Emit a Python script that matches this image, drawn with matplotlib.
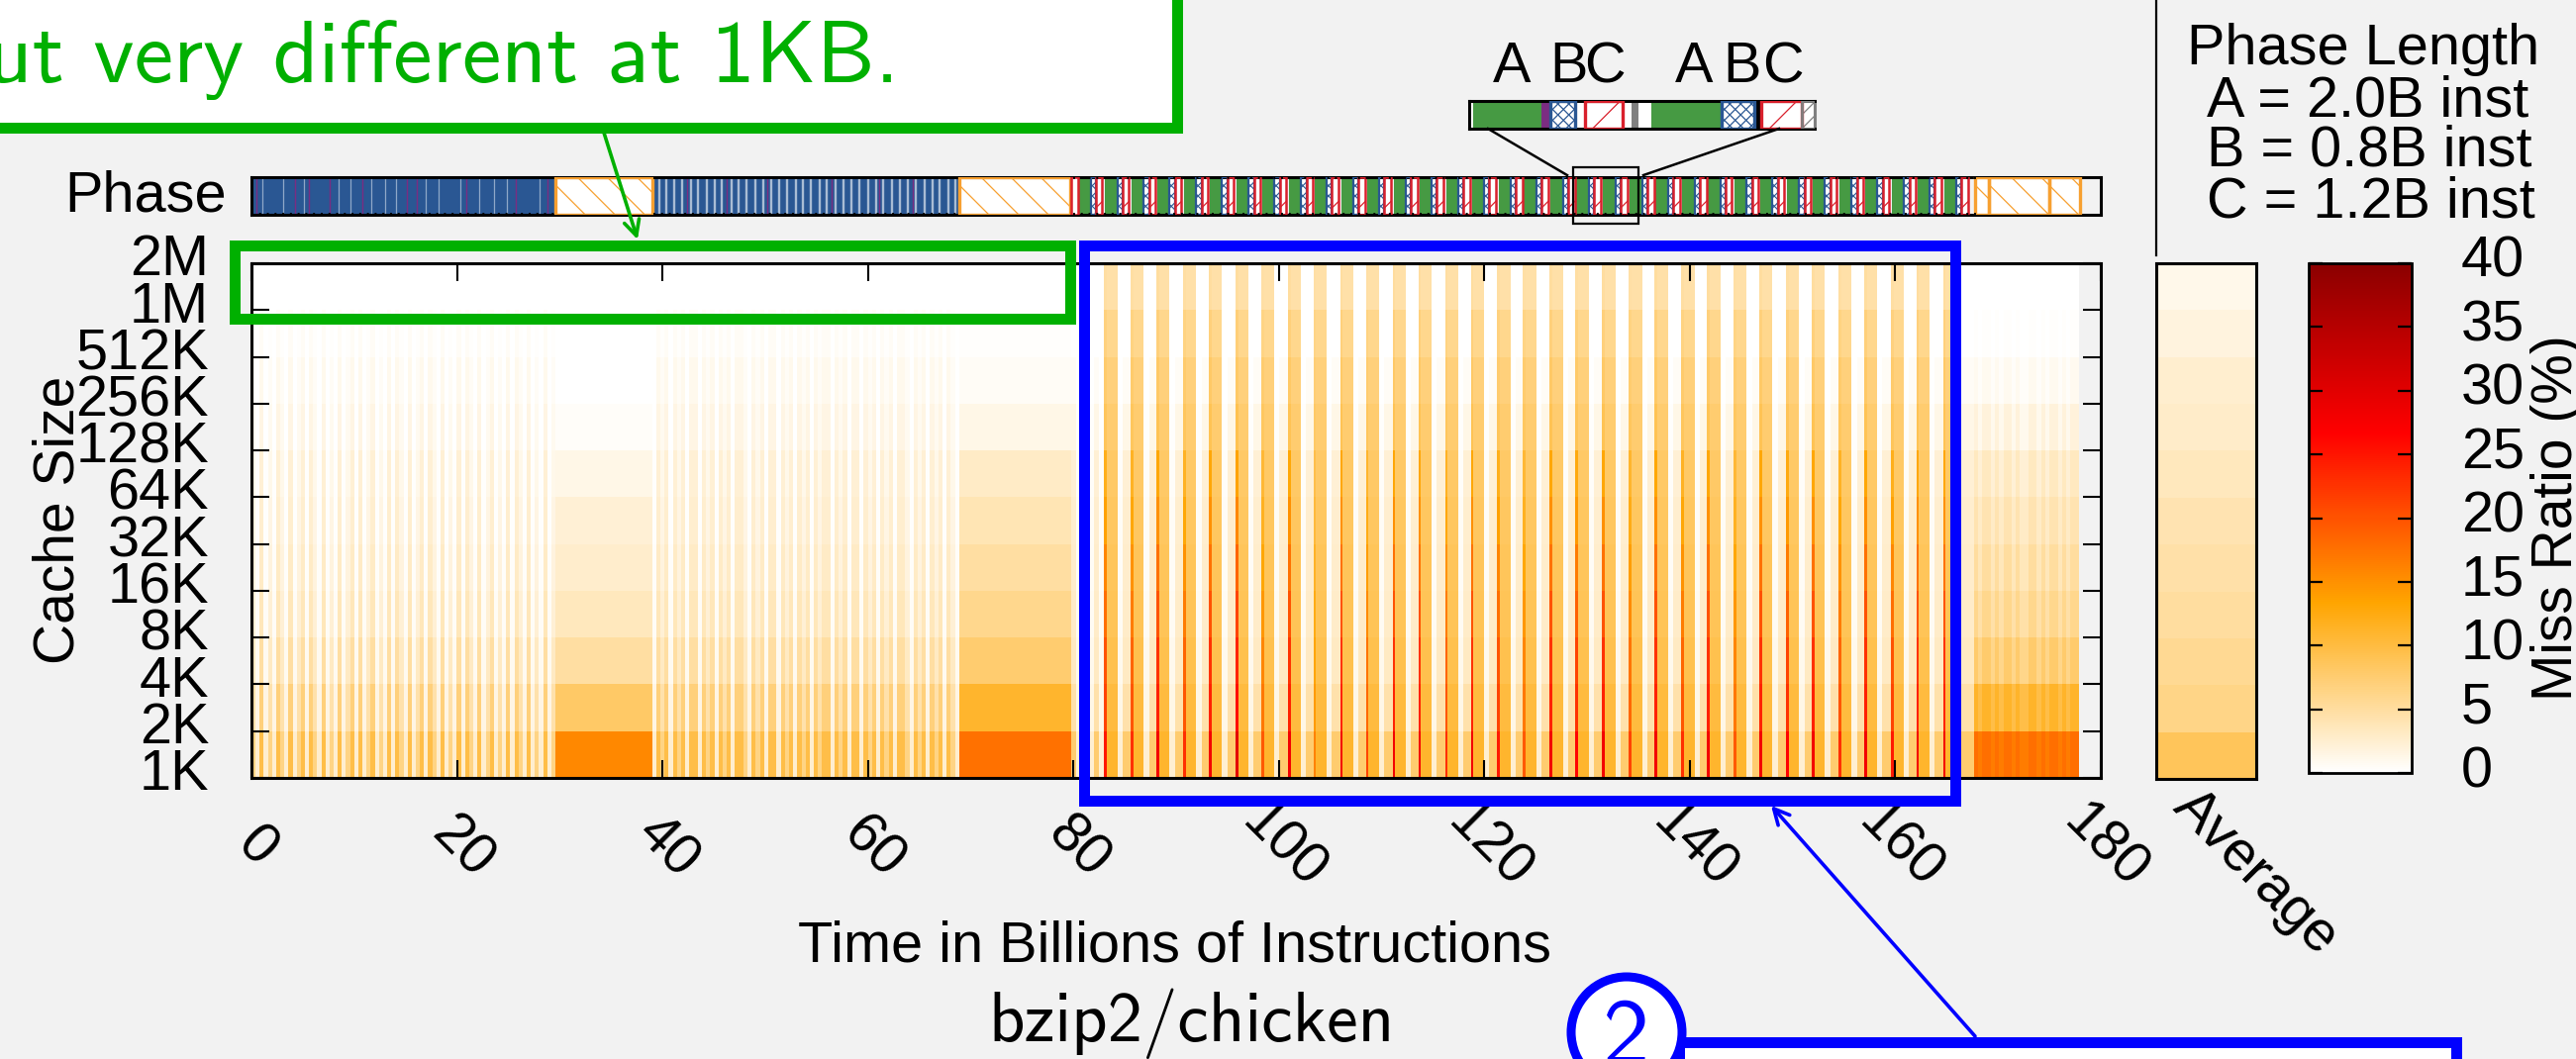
import numpy as np
import matplotlib
matplotlib.use('Agg')
import matplotlib.pyplot as plt
from matplotlib.colors import LinearSegmentedColormap
from matplotlib.cm import ScalarMappable
from matplotlib.patches import Rectangle, Circle

plt.rcParams['font.family'] = ['Liberation Sans', 'DejaVu Sans']

W, H = 2602, 1070
BG = '#f2f2f2'
GREEN = '#00b000'
BLUE = '#0000ff'
PH_GREEN, PH_BLUE, PH_RED = '#469a43', '#2a5793', '#d9202c'
PH_ORANGE, PH_PURPLE, PH_GREY = '#f7a030', '#7b2d82', '#808080'

cache_labels = ['1K', '2K', '4K', '8K', '16K', '32K', '64K', '128K', '256K',
                '512K', '1M', '2M']
x_ticks = [0, 20, 40, 60, 80, 100, 120, 140, 160, 180]
cbar_ticks = [0, 5, 10, 15, 20, 25, 30, 35, 40]

# miss ratio per cache row, 1K upwards to 1M
early_strong = [9.6, 7.0, 4.9, 3.7, 3.0, 2.6, 2.2, 1.5, 1.0, 0.6, 0.15]
early_mid = [6.5, 4.5, 3.2, 2.2, 1.8, 1.5, 1.2, 0.8, 0.5, 0.3, 0.1]
early_pale = [2.6, 1.5, 0.8, 0.5, 0.4, 0.3, 0.25, 0.15, 0.1, 0.08, 0.05]
flat_a = [15.7, 8.0, 4.9, 3.5, 2.8, 2.2, 1.4, 0.4, 0.1, 0.03, 0.02]
flat_b = [17.6, 11.0, 7.6, 6.0, 4.9, 4.0, 3.0, 1.3, 0.6, 0.2, 0.1]
spike = [28.0, 24.0, 22.5, 20.0, 17.6, 15.0, 13.0, 9.0, 8.0, 7.0, 5.0]
high = [11.0, 10.0, 9.3, 8.9, 8.6, 8.3, 8.0, 7.6, 7.0, 6.0, 4.6]
white = [2.4, 1.3, 1.0, 0.7, 0.6, 0.5, 0.4, 0.2, 0.1, 0.05, 0.03]
light = [7.5, 4.5, 3.2, 2.9, 2.7, 2.6, 2.3, 1.3, 0.6, 0.1, 0.05]
late_hi = [17.8, 11.2, 7.8, 6.0, 5.0, 4.2, 3.4, 1.9, 0.9, 0.25, 0.08]
late_lo = [16.6, 9.6, 6.2, 4.6, 3.6, 3.0, 2.2, 1.0, 0.4, 0.1, 0.04]
average = [8.6, 6.3, 5.7, 5.0, 4.6, 4.1, 3.5, 2.9, 2.5, 1.8, 1.2]

# stripe levels of the fine grained phases: 0 pale, 1 mid, 2 strong
early_a = [1, 0, 2, 0, 1, 0, 2, 1, 0, 2, 0, 1, 2, 0, 2, 1, 0, 2, 0, 1, 0, 2, 0,
           1, 2, 0, 2, 0, 1, 2, 0, 1, 0, 2, 0, 2, 1, 0, 2, 0, 1, 2, 0, 2, 1, 0,
           2, 0, 1, 0, 2, 0, 2, 1, 0, 2, 0, 1, 2, 0, 1, 0, 2, 0, 2, 1, 0, 2, 0,
           1, 0, 2, 0, 1]
early_b = [0, 2, 1, 2, 0, 2, 1, 2, 0, 2, 2, 0, 2, 1, 2, 0, 2, 1, 2, 0, 2, 2, 1,
           0, 2, 1, 2, 0, 2, 2, 0, 2, 1, 2, 0, 2, 1, 2, 0, 2, 1, 2, 2, 0, 2, 1,
           2, 0, 2, 2, 0, 2, 1, 2, 0, 2, 1, 2, 0, 2, 2, 1, 0, 2, 1, 2, 0, 2, 1,
           2, 0, 2, 1, 0]
late_levels = [1, 0, 1, 1, 0, 1, 0, 1, 1, 0, 1, 0, 0, 1, 1, 0, 1, 0, 1, 1, 0,
               1, 0, 1, 1]

# phase boundaries in billions of instructions
early_a_span = (0.0, 29.6)
flat_a_span = (29.6, 39.0)
early_b_span = (39.0, 68.9)
flat_b_span = (68.9, 79.8)
late_span = (167.8, 178.0)
pale_lead = [0.5, 0.7, 0.4, 0.6, 0.5, 0.5]
cycle_starts = [83.1, 85.7, 88.2, 90.8, 93.3, 95.9, 98.4, 101.0, 103.5, 106.1,
                108.6, 111.2, 113.7, 116.3, 118.8, 121.4, 123.9, 126.5, 129.0,
                131.6, 134.2, 136.7, 139.3, 141.8, 144.4, 146.9, 149.5, 152.0,
                154.6, 157.1, 159.7, 162.2, 164.8]
spike_strength = [0.8, 0.7, 1.0, 0.7, 1.0, 1.1, 0.5, 1.0, 0.3, 1.0, 0.6, 1.0,
                  1.0, 0.7, 1.0, 0.8, 0.5, 1.0, 0.9, 1.0, 0.6, 1.0, 0.7, 1.0,
                  0.5, 1.0, 0.9, 1.0, 0.7, 1.0, 0.8, 1.0, 1.0]

# phase bar
bar_blue_spans = [(0.0, 29.6), (39.1, 68.9)]
bar_orange_spans = [(29.6, 39.0), (68.9, 79.7), (167.8, 169.2), (169.2, 175.0),
                    (175.0, 178.0)]
bar_white_a = [1.1, 3.1, 5.1, 8.5, 9.6, 11.7, 13.0, 14.1, 17.0, 18.2, 20.3,
               22.2, 23.6, 24.9, 28.0]
bar_white_b = [39.7, 40.4, 41.2, 41.9, 42.8, 43.5, 44.3, 45.1, 45.8, 46.7, 47.4,
               48.2, 49.1, 49.8, 50.6, 51.4, 52.1, 53.0, 53.7, 54.5, 55.3, 56.0,
               56.9, 57.6, 58.4, 59.2, 60.0, 60.8, 61.5, 62.4, 63.1, 63.9, 64.7,
               65.5, 66.3, 67.0, 67.9, 68.5]
bar_purple_lines = [0.5, 4.2, 5.6, 7.6, 10.8, 15.1, 16.1, 20.9, 25.7, 28.8,
                    42.4, 46.3, 50.2, 56.5, 61.1, 64.4]
bar_cycle_widths = [1.19, 0.51, 0.64]

# zoomed part of the phase bar: kind, width in pixels
inset_kinds = ['white', 'green', 'purple', 'blue', 'white', 'red', 'white',
               'grey', 'white', 'green', 'blue', 'black', 'red', 'ghatch']
inset_widths = [4, 69, 9, 25, 10, 38, 9, 7, 14, 71, 33, 7, 41, 13]
abc_letters = ['A', 'B', 'C', 'A', 'B', 'C']
abc_x = [1508, 1565, 1600, 1692, 1740, 1780]
legend_lines = ['Phase Length', 'A = 2.0B inst', 'B = 0.8B inst', 'C = 1.2B inst']
legend_x = [2209, 2229, 2229, 2229]
legend_y = [65, 117, 168, 220]


def px_axes(x0, y0, x1, y1):
    return fig.add_axes([x0/W, 1-y1/H, (x1-x0)/W, (y1-y0)/H])


def hatched(ax, x0, w, h, color, signs, step, edge_lw, hatch_lw=0.9):
    fill = Rectangle((x0, 0), w, h, fc='white', ec='none', zorder=2)
    ax.add_patch(fill)
    for sign in signs:
        for off in np.arange(x0-h, x0+w+h, step):
            ys = [0, h] if sign > 0 else [h, 0]
            ln, = ax.plot([off, off+h], ys, color=color, lw=hatch_lw, zorder=2.5)
            ln.set_clip_path(fill)
    ax.add_patch(Rectangle((x0, 0), w, h, fc='none', ec=color, lw=edge_lw, zorder=3))


fig = plt.figure(figsize=(W/100, H/100), dpi=100, facecolor=BG)
cmap = LinearSegmentedColormap.from_list(
    'miss', ['white', 'orange', 'red', 'darkred'])

# heatmap columns
levels = [early_pale, early_mid, early_strong]
edges = [0.0]
cols = []


def add_col(width, vals):
    edges.append(edges[-1]+width)
    cols.append(vals)


for lev in early_a:
    add_col((early_a_span[1]-early_a_span[0])/len(early_a), levels[lev])
add_col(flat_a_span[1]-flat_a_span[0], flat_a)
for lev in early_b:
    add_col((early_b_span[1]-early_b_span[0])/len(early_b), levels[lev])
add_col(flat_b_span[1]-flat_b_span[0], flat_b)
for i, wd in enumerate(pale_lead):
    add_col(wd, white if i % 2 else light)
ends = cycle_starts[1:]+[late_span[0]]
for st, en, s in zip(cycle_starts, ends, spike_strength):
    add_col(0.26, list(np.array(high)+s*(np.array(spike)-np.array(high))))
    add_col(1.03, high)
    add_col(0.50, white)
    add_col(en-st-1.79, light)
for lev in late_levels:
    add_col((late_span[1]-late_span[0])/len(late_levels), late_hi if lev else late_lo)

ax = px_axes(254, 266, 2121.5, 786)
ax.set_facecolor(BG)
ax.pcolormesh(edges, np.arange(12), np.array(cols).T, cmap=cmap, vmin=0, vmax=40,
              antialiased=False, linewidth=0)
ax.set_xlim(0, 180)
ax.set_ylim(0, 11)
ax.set_xticks(x_ticks)
ax.set_yticks(np.arange(12))
ax.set_xticklabels([])
ax.set_yticklabels([])
ax.tick_params(axis='both', direction='in', length=13, width=1.5, top=True,
               right=True, color='black')
for sp in ax.spines.values():
    sp.set_linewidth(2.2)
for i, lab in enumerate(cache_labels):
    ax.annotate(lab, xy=(0, i), xycoords=('axes fraction', 'data'),
                xytext=(-43, -12.5), textcoords='offset pixels', ha='right',
                va='baseline', fontsize=41.5)
for t in x_ticks:
    ax.annotate(str(t), xy=(t, 0), xycoords=('data', 'axes fraction'),
                xytext=(5, -70), textcoords='offset pixels', ha='center',
                va='center', rotation=-45, rotation_mode='default', fontsize=41)

# average column
ax2 = px_axes(2177.5, 266, 2279, 787)
ax2.pcolormesh([0, 1], np.arange(12), np.array([average]).T, cmap=cmap, vmin=0,
               vmax=40, antialiased=False, linewidth=0)
ax2.set_xticks([])
ax2.set_yticks([])
for sp in ax2.spines.values():
    sp.set_linewidth(2.2)
ax2.annotate('Average', xy=(0.5, 0), xycoords='axes fraction', xytext=(50, -95),
             textcoords='offset pixels', ha='center', va='center', rotation=-45,
             fontsize=41)

# colour scale
cax = px_axes(2332, 266, 2436, 781)
cb = fig.colorbar(ScalarMappable(plt.Normalize(0, 40), cmap), cax=cax)
cb.set_ticks(cbar_ticks)
cb.set_ticklabels([])
cb.outline.set_linewidth(2.0)
cax.tick_params(direction='in', length=10, width=1.6, left=True, right=True,
                color='black')
for v in cbar_ticks:
    cax.annotate(str(v), xy=(1, v), xycoords=('axes fraction', 'data'),
                 xytext=(50, -14), textcoords='offset pixels', ha='left',
                 va='baseline', fontsize=41.5)

# phase bar, one x unit and one y unit are the same number of pixels
bar_h = 38/10.375
pax = px_axes(254, 179, 2121.5, 217)
pax.set_facecolor(BG)
pax.set_xlim(0, 180)
pax.set_ylim(0, bar_h)
pax.set_xticks([])
pax.set_yticks([])
for sp in pax.spines.values():
    sp.set_linewidth(2.2)
for x0, x1 in bar_blue_spans:
    pax.add_patch(Rectangle((x0, 0), x1-x0, bar_h, fc=PH_BLUE, ec='none', zorder=1))
pax.vlines(bar_white_a, 0.1, bar_h-0.1, color='#8fa8c8', lw=0.9, zorder=1.5)
pax.vlines(bar_white_b, 0.1, bar_h-0.1, color='#a9bcd4', lw=1.7, zorder=1.5)
pax.vlines(bar_purple_lines, 0, bar_h, color=PH_PURPLE, lw=1.0, zorder=1.5)
for x0, x1 in bar_orange_spans:
    hatched(pax, x0, x1-x0, bar_h, PH_ORANGE, [-1], 2.9, 2.4)
for st in [80.5]+cycle_starts:
    gw, bw, rw = bar_cycle_widths
    pax.add_patch(Rectangle((st, 0), gw, bar_h, fc=PH_GREEN, ec='none', zorder=1))
    hatched(pax, st+gw, bw, bar_h, PH_BLUE, [1, -1], 1.0, 1.6, hatch_lw=0.8)
    hatched(pax, st+gw+bw, rw, bar_h, PH_RED, [1], 3.0, 1.8)
pax.add_patch(Rectangle((79.8, 0), 0.7, bar_h, fc='white', ec=PH_RED, lw=1.8, zorder=3))
for x0, x1 in bar_blue_spans+[(80, 168)]:
    pax.hlines([0.05, bar_h-0.05], x0, x1, color='black', lw=1.4,
               linestyles=[(0, (1, 3))], zorder=4)

# zoomed phases
iax = px_axes(1484, 102, 1833, 130)
iax.set_facecolor('white')
iax.set_xlim(0, sum(inset_widths))
iax.set_ylim(0, 28)
iax.set_xticks([])
iax.set_yticks([])
for name in ['left', 'top', 'bottom']:
    iax.spines[name].set_linewidth(2.2)
iax.spines['right'].set_color(PH_GREY)
iax.spines['right'].set_linewidth(2.2)
inset_fill = {'white': 'white', 'green': PH_GREEN, 'purple': PH_PURPLE,
              'grey': PH_GREY, 'black': 'black'}
pos = 0
for kind, wd in zip(inset_kinds, inset_widths):
    if kind == 'blue':
        hatched(iax, pos, wd, 28, PH_BLUE, [1, -1], 11, 2.4, hatch_lw=0.9)
    elif kind == 'red':
        hatched(iax, pos, wd, 28, PH_RED, [1], 36, 2.4)
    elif kind == 'ghatch':
        hatched(iax, pos, wd, 28, PH_GREY, [1], 14, 2.0)
    else:
        iax.add_patch(Rectangle((pos, 0), wd, 28, fc=inset_fill[kind], ec='none'))
    pos += wd

# everything drawn on top of the plots, in pixels of the picture
ov = fig.add_axes([0, 0, 1, 1], zorder=10)
ov.set_xlim(0, W)
ov.set_ylim(H, 0)
ov.axis('off')
ov.patch.set_alpha(0)


def box(x0, y0, x1, y1, color, lw_px, fc='none'):
    ov.add_patch(Rectangle((x0+lw_px/2, y0+lw_px/2), x1-x0-lw_px, y1-y0-lw_px,
                           fc=fc, ec=color, lw=lw_px*0.72))


ov.text(229, 214, 'Phase', ha='right', va='baseline', fontsize=41.5)
ov.text(60, 525, 'Cache Size', ha='center', va='center', rotation=90, fontsize=41)
ov.text(1187, 972, 'Time in Billions of Instructions', ha='center', va='baseline',
        fontsize=41.5)
ov.text(2598, 708, 'Miss Ratio (%)', ha='left', va='baseline', rotation=90,
        rotation_mode='anchor', fontsize=41)
for lab, x in zip(abc_letters, abc_x):
    ov.text(x, 83, lab, ha='left', va='baseline', fontsize=41.5)
for lab, x, y in zip(legend_lines, legend_x, legend_y):
    ov.text(x, y, lab, ha='left', va='baseline', fontsize=41.5)
ov.plot([2178, 2178], [0, 258], color='black', lw=1.6)

ov.plot([1503, 1583], [130, 177], color='black', lw=1.8)
ov.plot([1797, 1660], [130, 177], color='black', lw=1.8)
ov.add_patch(Rectangle((1589, 169), 66, 57, fc='none', ec='black', lw=1.6))

# callouts
box(-30, -40, 1194, 134, GREEN, 11, fc='white')
ov.text(908, 83, 'but very different at 1KB.', ha='right', va='baseline',
        fontsize=64, color=GREEN, family='cmss10')
box(231, 242, 1086, 327, GREEN, 11)
ov.annotate('', xy=(644, 242), xytext=(610, 134),
            arrowprops=dict(arrowstyle='->', color=GREEN, lw=2.6, shrinkA=0,
                            shrinkB=0, mutation_scale=28))
box(1089, 242, 1980, 814, BLUE, 11)
ov.annotate('', xy=(1789, 814), xytext=(1995, 1047),
            arrowprops=dict(arrowstyle='->', color=BLUE, lw=2.6, shrinkA=0,
                            shrinkB=0, mutation_scale=28))
box(1690, 1047, 2486, 1120, BLUE, 11, fc='white')
ov.add_patch(Circle((1643, 1043), 56, fc='white', ec=BLUE, lw=6.5))
ov.text(1643, 1075, '2', ha='center', va='baseline', fontsize=68, color=BLUE,
        family='cmss10', clip_on=True)
ov.text(1204, 1052, 'bzip2/chicken', ha='center', va='baseline', fontsize=51,
        family='cmss10')

fig.savefig('out.png', dpi=100, facecolor=BG)
